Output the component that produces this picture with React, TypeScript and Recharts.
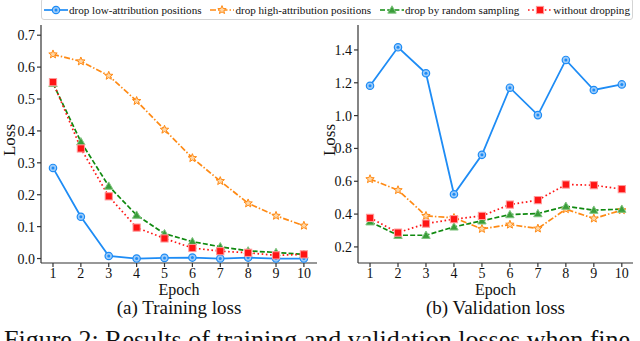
import React from 'react';
import { LineChart, Line, XAxis, YAxis } from 'recharts';

const epochs = [1, 2, 3, 4, 5, 6, 7, 8, 9, 10];

const trainLow = [0.284, 0.131, 0.008, 0.0, 0.002, 0.003, 0.0, 0.003, 0.0, 0.0];
const trainHigh = [0.64, 0.618, 0.573, 0.494, 0.404, 0.315, 0.243, 0.173, 0.134, 0.103];
const trainRandom = [0.549, 0.366, 0.227, 0.136, 0.078, 0.053, 0.037, 0.024, 0.019, 0.013];
const trainNoDrop = [0.553, 0.345, 0.195, 0.097, 0.063, 0.033, 0.023, 0.018, 0.01, 0.013];

const valLow = [1.182, 1.416, 1.258, 0.521, 0.761, 1.17, 1.003, 1.339, 1.156, 1.19];
const valHigh = [0.613, 0.546, 0.389, 0.377, 0.31, 0.336, 0.312, 0.43, 0.373, 0.424];
const valRandom = [0.353, 0.271, 0.271, 0.322, 0.359, 0.397, 0.403, 0.448, 0.424, 0.43];
const valNoDrop = [0.377, 0.287, 0.342, 0.369, 0.389, 0.458, 0.485, 0.58, 0.576, 0.552];

const trainTicks = [0, 0.1, 0.2, 0.3, 0.4, 0.5, 0.6, 0.7];
const valTicks = [0.2, 0.4, 0.6, 0.8, 1.0, 1.2, 1.4];

const seriesKeys = ['low', 'high', 'random', 'nodrop'];
const seriesNames = [
  'drop low-attribution positions',
  'drop high-attribution positions',
  'drop by random sampling',
  'without dropping',
];
const seriesColors = ['#1e8cf5', '#ff8a14', '#108a10', '#ff1414'];
const seriesDash = ['', '6 2 1.5 2', '5 2.2', '1.6 2.6'];
const markerKinds = ['circle', 'star', 'triangle', 'square'];

const FONT = '"Liberation Serif", "DejaVu Serif", serif';

function buildRows(a: number[], b: number[], c: number[], d: number[]) {
  return epochs.map((e, i) => ({ epoch: e, low: a[i], high: b[i], random: c[i], nodrop: d[i] }));
}
const trainData = buildRows(trainLow, trainHigh, trainRandom, trainNoDrop);
const valData = buildRows(valLow, valHigh, valRandom, valNoDrop);

function starPoints(cx: number, cy: number, ro: number, ri: number) {
  const pts: string[] = [];
  for (let i = 0; i < 10; i++) {
    const r = i % 2 === 0 ? ro : ri;
    const a = -Math.PI / 2 + (i * Math.PI) / 5;
    pts.push(`${cx + r * Math.cos(a)},${cy + r * Math.sin(a)}`);
  }
  return pts.join(' ');
}

function Marker({ kind, cx, cy }: { kind: string; cx: number; cy: number }) {
  if (kind === 'circle') {
    return (
      <g>
        <circle cx={cx} cy={cy} r={3.7} fill="#9ccbfa" stroke="#1e8cf5" strokeWidth={1.2} />
        <circle cx={cx} cy={cy} r={1.5} fill="#1e8cf5" />
      </g>
    );
  }
  if (kind === 'star') {
    return <polygon points={starPoints(cx, cy, 4.4, 1.9)} fill="#ffd7a6" stroke="#ff8a14" strokeWidth={1} />;
  }
  if (kind === 'triangle') {
    const s = 4.2;
    return (
      <polygon
        points={`${cx},${cy - s} ${cx - s},${cy + s * 0.75} ${cx + s},${cy + s * 0.75}`}
        fill="#3a9d3a"
        stroke="#7fc47f"
        strokeWidth={1}
      />
    );
  }
  return <rect x={cx - 3.6} y={cy - 3.6} width={7.2} height={7.2} fill="#ff1414" stroke="#ff9a9a" strokeWidth={1} />;
}

function makeDot(kind: string) {
  return (props: any) => {
    const { cx, cy, index } = props;
    if (cx == null || cy == null) return <g key={`d-${kind}-${index}`} />;
    return (
      <g key={`d-${kind}-${index}`}>
        <Marker kind={kind} cx={cx} cy={cy} />
      </g>
    );
  };
}

const tickStyle = { fontFamily: FONT, fontSize: 14, fill: '#111' };
const axisStroke = { stroke: '#333', strokeWidth: 1.2 };

function Panel({
  data,
  yDomain,
  yTicks,
  xDomain,
  yWidth,
  marginRight,
}: {
  data: any[];
  yDomain: [number, number];
  yTicks: number[];
  xDomain: [number, number];
  yWidth: number;
  marginRight: number;
}) {
  return (
    <LineChart width={320} height={283} data={data} margin={{ top: 25, right: marginRight, bottom: 0, left: 0 }}>
      <XAxis
        dataKey="epoch"
        type="number"
        domain={xDomain}
        ticks={epochs}
        allowDataOverflow
        height={20}
        tick={tickStyle}
        tickSize={4}
        tickMargin={1}
        axisLine={axisStroke}
        tickLine={axisStroke}
        interval={0}
      />
      <XAxis
        xAxisId="top"
        orientation="top"
        dataKey="epoch"
        type="number"
        domain={xDomain}
        allowDataOverflow
        height={0}
        tick={false}
        tickLine={false}
        axisLine={axisStroke}
      />
      <YAxis
        type="number"
        domain={yDomain}
        ticks={yTicks}
        allowDataOverflow
        width={yWidth}
        tick={tickStyle}
        tickSize={4}
        tickMargin={2}
        axisLine={axisStroke}
        tickLine={axisStroke}
        tickFormatter={(v: number) => v.toFixed(1)}
        interval={0}
      />
      <YAxis
        yAxisId="right"
        orientation="right"
        type="number"
        domain={yDomain}
        allowDataOverflow
        width={0}
        tick={false}
        tickLine={false}
        axisLine={axisStroke}
      />
      {seriesKeys.map((k, i) => (
        <Line
          key={k}
          dataKey={k}
          stroke={seriesColors[i]}
          strokeWidth={i === 0 ? 1.8 : 1.7}
          strokeDasharray={seriesDash[i] || undefined}
          dot={makeDot(markerKinds[i])}
          activeDot={false}
          isAnimationActive={false}
          type="linear"
        />
      ))}
    </LineChart>
  );
}

function LegendItem({ i }: { i: number }) {
  return (
    <div style={{ display: 'flex', alignItems: 'center' }}>
      <svg width={26} height={12} style={{ display: 'block' }}>
        <line
          x1={1}
          y1={6}
          x2={25}
          y2={6}
          stroke={seriesColors[i]}
          strokeWidth={1.7}
          strokeDasharray={seriesDash[i] || undefined}
        />
        <Marker kind={markerKinds[i]} cx={13} cy={6} />
      </svg>
      <span
        style={{
          fontFamily: FONT,
          fontSize: 11.1,
          lineHeight: '12px',
          color: '#111',
          marginLeft: 0,
          whiteSpace: 'nowrap',
        }}
      >
        {seriesNames[i]}
      </span>
    </div>
  );
}

const labelBase: React.CSSProperties = {
  position: 'absolute',
  textAlign: 'center',
  fontFamily: FONT,
  color: '#111',
  lineHeight: 1,
  whiteSpace: 'nowrap',
};

export default function App() {
  return (
    <div
      style={{
        position: 'fixed',
        left: 0,
        top: 0,
        width: 640,
        height: 341,
        overflow: 'hidden',
        background: '#fff',
      }}
    >
      <div style={{ position: 'absolute', left: 0, top: 0 }}>
        <Panel
          data={trainData}
          yDomain={[-0.014, 0.732]}
          yTicks={trainTicks}
          xDomain={[0.57, 10.47]}
          yWidth={41}
          marginRight={3}
        />
      </div>
      <div style={{ position: 'absolute', left: 320, top: 0 }}>
        <Panel
          data={valData}
          yDomain={[0.102, 1.552]}
          yTicks={valTicks}
          xDomain={[0.57, 10.4]}
          yWidth={38}
          marginRight={7}
        />
      </div>

      <div
        style={{
          position: 'absolute',
          left: 41,
          top: -2,
          width: 592,
          height: 22,
          boxSizing: 'border-box',
          border: '1px solid #d4d4d4',
          borderRadius: 3,
          background: '#fff',
          display: 'flex',
          alignItems: 'center',
          justifyContent: 'space-between',
          paddingLeft: 1,
          paddingRight: 2,
          paddingTop: 2,
        }}
      >
        {seriesNames.map((_, i) => (
          <LegendItem key={i} i={i} />
        ))}
      </div>

      {[9, 329].map((x, i) => (
        <div key={`loss-${i}`} style={{ position: 'absolute', left: x, top: 140, width: 0, height: 0 }}>
          <div
            style={{
              ...labelBase,
              left: 0,
              top: 0,
              transform: 'translate(-50%, -50%) rotate(-90deg)',
              fontSize: 17,
            }}
          >
            Loss
          </div>
        </div>
      ))}

      {[179, 495.5].map((cx, i) => (
        <React.Fragment key={i}>
          <div style={{ ...labelBase, left: cx - 60, width: 120, top: 282, fontSize: 16 }}>Epoch</div>
          <div style={{ ...labelBase, left: cx - 100, width: 200, top: 298, fontSize: 19 }}>
            {i === 0 ? '(a) Training loss' : '(b) Validation loss'}
          </div>
        </React.Fragment>
      ))}

      <div style={{ ...labelBase, textAlign: 'left', left: 4, top: 327, fontSize: 26 }}>
        Figure 2: Results of training and validation losses when fine
      </div>
    </div>
  );
}
